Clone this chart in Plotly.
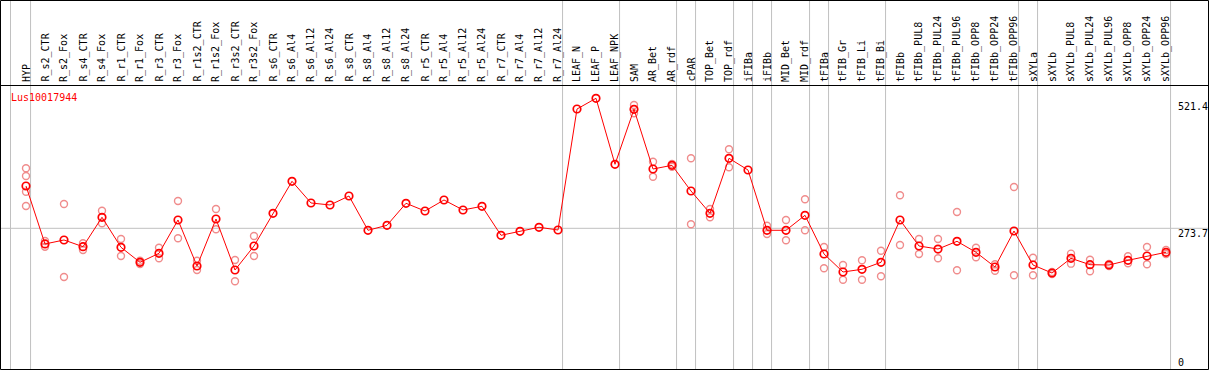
import plotly.graph_objects as go

W, H = 1209, 370

categories = ["HYP", "R_s2_CTR", "R_s2_Fox", "R_s4_CTR", "R_s4_Fox", "R_r1_CTR", "R_r1_Fox",
              "R_r3_CTR", "R_r3_Fox", "R_r1s2_CTR", "R_r1s2_Fox", "R_r3s2_CTR", "R_r3s2_Fox",
              "R_s6_CTR", "R_s6_Al4", "R_s6_Al12", "R_s6_Al24", "R_s8_CTR", "R_s8_Al4",
              "R_s8_Al12", "R_s8_Al24", "R_r5_CTR", "R_r5_Al4", "R_r5_Al12", "R_r5_Al24",
              "R_r7_CTR", "R_r7_Al4", "R_r7_Al12", "R_r7_Al24", "LEAF_N", "LEAF_P", "LEAF_NPK",
              "SAM", "AR_Bet", "AR_rdf", "cPAR", "TOP_Bet", "TOP_rdf", "iFIBa", "iFIBb",
              "MID_Bet", "MID_rdf", "tFIBa", "tFIB_Gr", "tFIB_Li", "tFIB_Bi", "tFIBb",
              "tFIBb_PUL8", "tFIBb_PUL24", "tFIBb_PUL96", "tFIBb_OPP8", "tFIBb_OPP24",
              "tFIBb_OPP96", "sXYLa", "sXYLb", "sXYLb_PUL8", "sXYLb_PUL24", "sXYLb_PUL96",
              "sXYLb_OPP8", "sXYLb_OPP24", "sXYLb_OPP96"]

mean_values = [356.6, 243.0, 250.8, 237.7, 295.3, 236.5, 207.1, 224.7, 290.0, 199.8, 291.9,
               192.0, 239.0, 303.1, 365.8, 323.3, 319.4, 337.0, 269.8, 279.6, 322.7, 307.6,
               329.2, 309.6, 316.8, 260.0, 267.8, 275.7, 270.4, 507.4, 528.4, 399.1, 506.9,
               389.9, 397.1, 346.8, 303.1, 410.9, 387.9, 269.8, 269.8, 299.2, 223.4, 188.1,
               193.4, 207.1, 290.0, 239.0, 233.1, 248.2, 226.7, 197.9, 268.4, 201.8, 186.1,
               214.9, 202.4, 201.8, 211.0, 219.4, 226.7]

N = None
rep_a = [391.3, 248.8, 321.3, 244.3, 308.2, 252.7, 210.2, 235.7, 327.2, 210.2, 311.5,
         211.6, 258.6, N, N, N, N, N, N, N, N, N, N, N, N, N, N, N, N, N, N, N,
         515.3, 404.2, 399.7, 410.9, 311.5, 428.5, N, 278.8, 290.0, 330.5, 237.1, 201.8,
         211.0, 229.8, 338.4, 252.7, 252.7, 305.6, 235.7, 203.2, 354.6, 216.1, 188.1,
         224.0, 212.2, 203.8, 218.8, 237.1, 231.2]
rep_b = [376.2, 237.7, 178.3, 231.2, 283.5, 219.4, 203.8, 214.9, 254.1, 192.0, 271.7,
         169.9, 219.4, N, N, N, N, N, N, N, N, N, N, N, N, N, N, N, N, N, N, N,
         499.0, 374.8, 394.4, 281.5, 295.3, 393.2, N, 262.5, 250.2, 269.8, 195.3, 173.0,
         173.0, 179.7, 241.0, 223.4, 214.9, 191.4, 216.9, 190.6, 181.6, 181.6, 184.2,
         204.4, 189.5, 199.8, 205.1, 203.2, 223.4]
rep_c = [345.4] + [N] * 60
rep_d = [317.4] + [N] * 60

separators_after = [0, 28, 31, 34, 35, 37, 38, 39, 41, 42, 45, 52, 53, 60]
y_tick_values = [521.4, 273.7, 0]
y_tick_labels = ["521.4", "273.7", "0"]
title_text = "Lus10017944"

# pixel geometry
X0, DX = 26.0, 19.0          # pixel x of first category, spacing
Y0, SY = 368.0, 0.5104       # pixel y of value 0, pixels per unit
x_range = [-X0 / DX, (W - X0) / DX]
y_range = [-(H - Y0) / SY, Y0 / SY]

def px(x):
    return x / W

def py(y):
    return 1 - y / H

idx = list(range(len(categories)))
RED = "#ff0000"
PINK = "rgb(240,140,140)"
FONT = "DejaVu Sans Mono"

fig = go.Figure()
for reps in (rep_a, rep_b, rep_c, rep_d):
    fig.add_trace(go.Scatter(
        x=idx, y=reps, mode="markers", cliponaxis=False,
        marker=dict(symbol="circle-open", size=7, color=PINK, line=dict(width=1.4, color=PINK)),
        hoverinfo="skip", showlegend=False))
fig.add_trace(go.Scatter(
    x=idx, y=mean_values, mode="lines+markers", cliponaxis=False,
    line=dict(color=RED, width=1),
    marker=dict(symbol="circle-open", size=7.5, color=RED, line=dict(width=1.7, color=RED)),
    showlegend=False))

shapes = []
GRAY = "#c0c0c0"
shapes.append(dict(type="line", xref="paper", yref="paper", x0=px(10.5), x1=px(10.5),
                   y0=0, y1=1, line=dict(color=GRAY, width=1), layer="below"))
for s in separators_after:
    shapes.append(dict(type="line", xref="x", yref="paper", x0=s + 0.24, x1=s + 0.24,
                       y0=0, y1=1, line=dict(color=GRAY, width=1), layer="below"))
shapes.append(dict(type="line", xref="paper", yref="y", x0=0, x1=1, y0=273.7, y1=273.7,
                   line=dict(color=GRAY, width=1), layer="below"))
shapes.append(dict(type="rect", xref="paper", yref="paper", x0=px(0.5), x1=px(1208.5),
                   y0=py(369.5), y1=py(0.5), line=dict(color="black", width=1), layer="above"))
shapes.append(dict(type="line", xref="paper", yref="paper", x0=0, x1=1,
                   y0=py(85.5), y1=py(85.5), line=dict(color="black", width=1), layer="above"))

annotations = []
for i, c in enumerate(categories):
    annotations.append(dict(x=i, xref="x", y=py(84), yref="paper", text=c, textangle=-90,
                            showarrow=False, xanchor="center", yanchor="bottom",
                            font=dict(family=FONT, size=10, color="black")))
annotations.append(dict(x=px(9), xref="paper", y=py(97), yref="paper", text=title_text,
                        showarrow=False, xanchor="left", yanchor="middle",
                        font=dict(family=FONT, size=10, color=RED)))
for v, t in zip(y_tick_values, y_tick_labels):
    shift = -5 if v > 0 else 6
    annotations.append(dict(x=px(1176), xref="paper", y=v, yref="y", text=t, yshift=shift,
                            showarrow=False, xanchor="left", yanchor="middle",
                            font=dict(family=FONT, size=10, color="black")))

fig.update_layout(
    width=W, height=H, autosize=False,
    margin=dict(l=0, r=0, t=0, b=0, pad=0),
    paper_bgcolor="white", plot_bgcolor="rgba(0,0,0,0)",
    xaxis=dict(range=x_range, visible=False, fixedrange=True),
    yaxis=dict(range=y_range, visible=False, fixedrange=True),
    shapes=shapes, annotations=annotations, showlegend=False,
)

fig.write_html("out.html", config={"displayModeBar": False},
               post_script="document.body.style.margin='0';document.body.style.overflow='hidden';")
